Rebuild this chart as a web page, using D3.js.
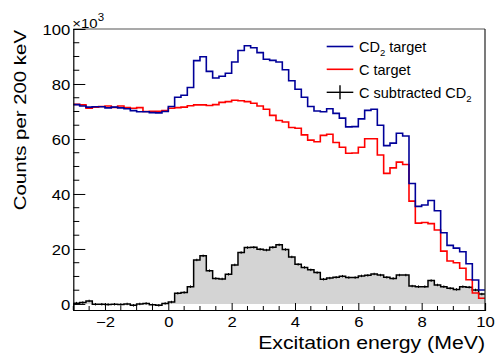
<!DOCTYPE html>
<html>
<head>
<meta charset="utf-8">
<script src="https://cdn.jsdelivr.net/npm/d3@7"></script>
<style>
  html, body { margin: 0; padding: 0; background: #fff; }
  svg { display: block; font-family: "Liberation Sans", Arial, sans-serif; }
</style>
</head>
<body>
<svg id="chart" width="495" height="355"></svg>
<script>
// Excitation-energy spectra, 200 keV bins from -3 to 10 MeV (counts in units of 10^3)
const binLow = -3;
const binWidth = 0.2;

const cd2Target = [
  72.5, 72.0, 71.6, 71.7, 71.7, 71.3, 71.6, 71.3, 71.0, 70.3,
  69.9, 69.9, 69.6, 69.5, 70.0, 71.8, 75.2, 75.9, 78.7, 88.5,
  89.9, 84.6, 82.2, 82.8, 83.9, 88.0, 92.2, 93.9, 93.2, 91.4,
  89.0, 88.6, 88.0, 85.2, 81.2, 78.1, 75.2, 71.8, 70.2, 69.9,
  71.0, 69.3, 67.6, 64.4, 64.5, 67.3, 70.4, 70.8, 65.0, 57.6,
  58.5, 62.1, 61.1, 43.8, 35.5, 36.0, 37.6, 33.9, 25.9, 21.3,
  20.3, 19.0, 14.6, 8.7, 5.1
];

const cTarget = [
  72.6, 72.4, 71.2, 71.6, 71.8, 72.0, 71.5, 72.0, 71.4, 71.2,
  71.4, 70.0, 70.1, 70.1, 70.3, 71.2, 71.4, 71.6, 72.1, 72.4,
  72.4, 72.2, 72.5, 73.3, 73.6, 74.1, 73.9, 73.6, 73.0, 72.0,
  70.8, 68.6, 66.7, 66.2, 64.2, 63.9, 61.5, 59.6, 59.0, 61.3,
  61.7, 58.7, 57.0, 54.8, 54.9, 57.0, 60.1, 60.1, 54.2, 47.5,
  49.5, 51.6, 50.7, 37.4, 29.4, 29.6, 29.2, 26.9, 19.2, 15.6,
  15.0, 13.0, 8.8, 4.0, 2.1
];

const cSubtracted = [
  0.3, 0.5, 1.1, -0.1, -0.1, -0.2, -0.1, -0.2, 0.0, -0.5,
  0.0, 0.2, -0.3, -0.5, 0.2, 0.7, 3.9, 4.2, 6.3, 16.0,
  17.5, 12.1, 9.3, 9.1, 10.8, 14.2, 18.7, 20.5, 20.6, 19.9,
  19.6, 20.6, 21.5, 19.8, 17.1, 14.4, 13.3, 12.4, 11.4, 9.0,
  9.4, 9.7, 10.1, 9.6, 9.6, 10.2, 10.4, 10.9, 10.5, 9.7,
  9.3, 10.5, 10.5, 6.5, 6.3, 6.3, 8.5, 6.9, 6.3, 5.7,
  5.3, 6.3, 6.1, 5.1, 3.6
];
const cSubtractedErr = 0.45;

const xTicks = [-2, 0, 2, 4, 6, 8, 10];
const yTicks = [0, 20, 40, 60, 80, 100];

const seriesNames = ["CD\u2082 target", "C target", "C subtracted CD\u2082"];

// ---- layout ----
const svg = d3.select("#chart");
const frame = { left: 73.3, right: 485, top: 29, bottom: 310 };
const textStretch = 1.15;   // wide axis lettering

const x = d3.scaleLinear().domain([-3, 10]).range([frame.left, frame.right]);
const y = d3.scaleLinear().domain([-2.2, 100]).range([frame.bottom, frame.top]);

const nBins = cd2Target.length;
const edges = d3.range(nBins + 1).map(i => binLow + i * binWidth);

// step outline of a histogram (no vertical drops at the outer edges)
function stepPath(vals) {
  const pts = [];
  vals.forEach((v, i) => {
    pts.push([x(edges[i]), y(v)]);
    pts.push([x(edges[i + 1]), y(v)]);
  });
  return d3.line()(pts);
}

function stepArea(vals) {
  const pts = [];
  vals.forEach((v, i) => {
    pts.push({ x: x(edges[i]), v: v });
    pts.push({ x: x(edges[i + 1]), v: v });
  });
  return d3.area().x(d => d.x).y0(y(0)).y1(d => y(d.v))(pts);
}

const plot = svg.append("g");
svg.append("clipPath").attr("id", "frameClip")
  .append("rect")
  .attr("x", frame.left).attr("y", frame.top)
  .attr("width", frame.right - frame.left).attr("height", frame.bottom - frame.top);
plot.attr("clip-path", "url(#frameClip)");

// grey filled subtracted spectrum
plot.append("path")
  .attr("d", stepArea(cSubtracted))
  .attr("fill", "#d4d4d4")
  .attr("stroke", "none");

plot.append("path")
  .attr("d", stepPath(cSubtracted))
  .attr("fill", "none")
  .attr("stroke", "#000")
  .attr("stroke-width", 1.5);

// small error bars at bin centres
plot.append("g").selectAll("line")
  .data(cSubtracted)
  .join("line")
  .attr("x1", (d, i) => x(edges[i] + binWidth / 2))
  .attr("x2", (d, i) => x(edges[i] + binWidth / 2))
  .attr("y1", d => y(d - cSubtractedErr))
  .attr("y2", d => y(d + cSubtractedErr))
  .attr("stroke", "#000")
  .attr("stroke-width", 1);

plot.append("path")
  .attr("d", stepPath(cTarget))
  .attr("fill", "none")
  .attr("stroke", "#ff0000")
  .attr("stroke-width", 1.6);

plot.append("path")
  .attr("d", stepPath(cd2Target))
  .attr("fill", "none")
  .attr("stroke", "#000099")
  .attr("stroke-width", 1.6);

// ---- frame ----
svg.append("line")
  .attr("x1", frame.left).attr("x2", frame.right)
  .attr("y1", frame.top).attr("y2", frame.top)
  .attr("stroke", "#555").attr("stroke-width", 1.2);
svg.append("line")
  .attr("x1", frame.right).attr("x2", frame.right)
  .attr("y1", frame.top).attr("y2", frame.bottom)
  .attr("stroke", "#222").attr("stroke-width", 1.2);

// ---- axes (ticks drawn inside the frame) ----
const yMinor = d3.range(0, 100.01, 5).filter(v => v % 20 !== 0);
const xMinor = d3.range(-3, 10.01, 0.5).filter(v => Math.abs(v % 2) > 1e-6);

const yAxis = svg.append("g").attr("transform", `translate(${frame.left},0)`);
yAxis.call(d3.axisLeft(y).tickValues(yTicks).tickSize(-12).tickFormat(d3.format("d")));
yAxis.append("g").selectAll("line").data(yMinor).join("line")
  .attr("x1", 0).attr("x2", 6)
  .attr("y1", d => y(d)).attr("y2", d => y(d))
  .attr("stroke", "#000");

const xAxis = svg.append("g").attr("transform", `translate(0,${frame.bottom})`);
xAxis.call(d3.axisBottom(x).tickValues(xTicks).tickSize(-7)
  .tickFormat(d => d < 0 ? "\u2212" + Math.abs(d) : String(d)));
xAxis.append("g").selectAll("line").data(xMinor).join("line")
  .attr("x1", d => x(d)).attr("x2", d => x(d))
  .attr("y1", 0).attr("y2", -4)
  .attr("stroke", "#000");

[yAxis, xAxis].forEach(g => {
  g.select(".domain").attr("stroke", "#000").attr("stroke-width", 1.2);
  g.selectAll(".tick line").attr("stroke", "#000");
  g.selectAll(".tick text")
    .attr("font-family", "Liberation Sans, Arial, sans-serif")
    .attr("font-size", 14.5)
    .attr("fill", "#000");
});
yAxis.selectAll(".tick text")
  .attr("x", 0).attr("dy", "0.35em")
  .attr("transform", `translate(-3,0) scale(${textStretch},1)`);
xAxis.selectAll(".tick text")
  .attr("y", 0).attr("dy", 0)
  .attr("transform", `translate(0,16.5) scale(${textStretch},1)`);

// ---- exponent label ----
const expo = svg.append("text")
  .attr("transform", `translate(${frame.left - 1},28) scale(${textStretch},1)`)
  .attr("font-size", 13).attr("fill", "#000");
expo.append("tspan").text("\u00d710");
expo.append("tspan").attr("dy", -7.5).attr("font-size", 10).text("3");

// ---- axis titles ----
svg.append("text")
  .attr("transform", `translate(${frame.right},349) scale(${textStretch},1)`)
  .attr("text-anchor", "end")
  .attr("font-size", 18.5).attr("fill", "#000")
  .text("Excitation energy (MeV)");

svg.append("text")
  .attr("transform", `translate(25.5,30) rotate(-90) scale(1.2,1)`)
  .attr("text-anchor", "end")
  .attr("font-size", 17).attr("fill", "#000")
  .text("Counts per 200 keV");

// ---- legend ----
const legend = svg.append("g");
const rows = [
  { name: seriesNames[0], color: "#000099", y: 46.5, cross: false },
  { name: seriesNames[1], color: "#ff0000", y: 69.3, cross: false },
  { name: seriesNames[2], color: "#000", y: 92.3, cross: true }
];
rows.forEach(r => {
  legend.append("line")
    .attr("x1", 326.7).attr("x2", 353.3)
    .attr("y1", r.y).attr("y2", r.y)
    .attr("stroke", r.color).attr("stroke-width", r.cross ? 1.4 : 1.6);
  if (r.cross) {
    legend.append("line")
      .attr("x1", 340).attr("x2", 340)
      .attr("y1", r.y - 7).attr("y2", r.y + 7)
      .attr("stroke", "#000").attr("stroke-width", 1.4);
  }
  const t = legend.append("text")
    .attr("x", 359).attr("y", r.y + 5.2)
    .attr("font-size", 14.5).attr("fill", "#000");
  // subscript 2 of CD2 drawn as a lowered small digit
  const parts = r.name.split("\u2082");
  parts.forEach((p, k) => {
    if (k > 0) {
      t.append("tspan").attr("dy", 4).attr("font-size", 9.5).text("2");
      t.append("tspan").attr("dy", -4).text(p);
    } else {
      t.append("tspan").text(p);
    }
  });
});
</script>
</body>
</html>
